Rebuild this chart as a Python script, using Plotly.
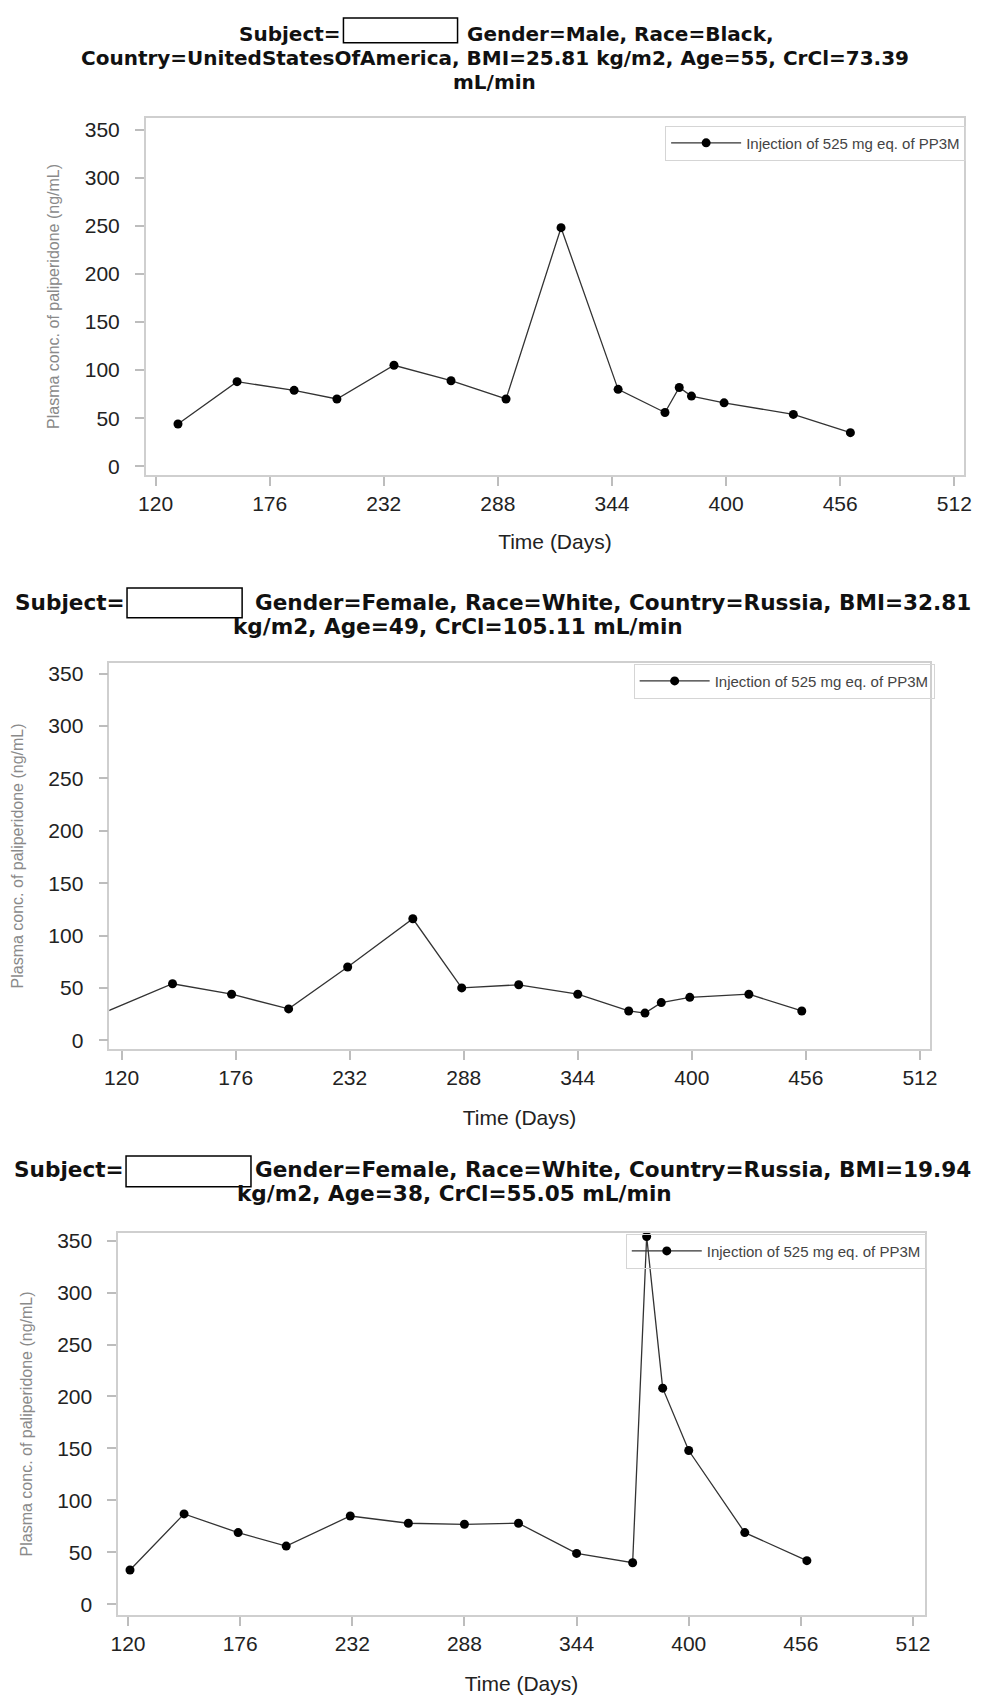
import plotly.graph_objects as go

# ---- data: study day and plasma paliperidone concentration per subject ----
days_1 = [131, 160, 188, 209, 237, 265, 292, 319, 347, 370, 377, 383, 399, 433, 461]
conc_1 = [44, 88, 79, 70, 105, 89, 70, 248, 80, 56, 82, 73, 66, 54, 35]

days_2 = [106, 145, 174, 202, 231, 263, 287, 315, 344, 369, 377, 385, 399, 428, 454]
conc_2 = [22, 54, 44, 30, 70, 116, 50, 53, 44, 28, 26, 36, 41, 44, 28]

days_3 = [121, 148, 175, 199, 231, 260, 288, 315, 344, 372, 379, 387, 400, 428, 459]
conc_3 = [33, 87, 69, 56, 85, 78, 77, 78, 49, 40, 354, 208, 148, 69, 42]

series_name = "Injection of 525 mg eq. of PP3M"
x_ticks = [120, 176, 232, 288, 344, 400, 456, 512]
y_ticks = [0, 50, 100, 150, 200, 250, 300, 350]

subject_info = [
    ("Gender=Male, Race=Black,",
     ["Country=UnitedStatesOfAmerica, BMI=25.81 kg/m2, Age=55, CrCl=73.39", "mL/min"]),
    ("Gender=Female, Race=White, Country=Russia, BMI=32.81",
     ["kg/m2, Age=49, CrCl=105.11 mL/min"]),
    ("Gender=Female, Race=White, Country=Russia, BMI=19.94",
     ["kg/m2, Age=38, CrCl=55.05 mL/min"]),
]

# ---- page geometry (pixels) ----
W, H = 982, 1695


def fx(x):
    return x / W


def fy(y):
    return 1 - y / H


# plot frames: left, right, top, bottom
frames = [(140, 972, 114, 473), (103, 937, 661, 1049), (112, 932, 1233, 1617)]
x_ranges = [[115.17, 516.83], [113.96, 516.83], [115.09, 517.9]]
y_ranges = [[-9.32, 362.4], [-8.56, 360.46], [-10.55, 357.67]]
# masked subject-id box: left, right, top, bottom
id_boxes = [(341, 457, 14, 39), (121, 238, 586, 616), (120, 247, 1156, 1187)]
title_rows = [[30, 54, 78], [601, 625], [1170, 1194]]
title_cx = [495, 457, 454]
title_size = [20, 21.6, 21.6]
gender_gap = [8, 11, 2]
legend_pos = [(974, 122), (942, 662), (934, 1234)]
x_title_standoff = [20, 22, 24]
clip_marks = [True, True, False]

TICK_FONT = dict(family="Liberation Sans, Arial", size=21, color="#222222")

fig = go.Figure()
layout = dict(
    width=W, height=H,
    margin=dict(l=0, r=0, t=0, b=0),
    paper_bgcolor="white", plot_bgcolor="white",
    showlegend=True,
)
annotations = []
shapes = []

all_days = [days_1, days_2, days_3]
all_conc = [conc_1, conc_2, conc_3]

for i in range(3):
    sfx = "" if i == 0 else str(i + 1)
    leg = "legend" + sfx
    fig.add_trace(go.Scatter(
        x=all_days[i], y=all_conc[i],
        mode="lines+markers",
        name=series_name,
        line=dict(color="#333333", width=1.3),
        marker=dict(color="black", size=9),
        xaxis="x" + sfx, yaxis="y" + sfx,
        legend=leg,
        showlegend=True,
        cliponaxis=clip_marks[i],
    ))

    l, r, t, b = frames[i]
    layout["xaxis" + sfx] = dict(
        domain=[fx(l), fx(r)], range=x_ranges[i], anchor="y" + sfx,
        tickmode="array", tickvals=x_ticks,
        showline=True, mirror=True, linecolor="#cfcfcf", linewidth=1.5,
        ticks="outside", ticklen=9, tickwidth=1.5, tickcolor="#bdbdbd",
        showgrid=False, zeroline=False,
        tickfont=TICK_FONT,
        title=dict(text="Time (Days)", font=TICK_FONT, standoff=x_title_standoff[i]),
    )
    layout["yaxis" + sfx] = dict(
        domain=[fy(b), fy(t)], range=y_ranges[i], anchor="x" + sfx,
        tickmode="array", tickvals=y_ticks,
        showline=True, mirror=True, linecolor="#cfcfcf", linewidth=1.5,
        ticks="outside", ticklen=9, tickwidth=1.5, tickcolor="#bdbdbd",
        showgrid=False, zeroline=False,
        tickfont=TICK_FONT, ticklabelstandoff=11,
        title=dict(text="Plasma conc. of paliperidone (ng/mL)",
                   font=dict(family="Liberation Sans, Arial", size=16, color="#8a8a8a"),
                   standoff=21),
    )

    lx, ly = legend_pos[i]
    layout[leg] = dict(
        x=fx(lx), y=fy(ly), xanchor="right", yanchor="top",
        xref="paper", yref="paper",
        bgcolor="rgba(0,0,0,0)", bordercolor="#d5d5d5", borderwidth=1,
        font=dict(family="Liberation Sans, Arial", size=15, color="#444444"),
        itemwidth=70,
    )

    # title: "Subject=" + masked id box + subject details
    title_font = dict(family="DejaVu Sans", size=title_size[i], color="#111111", weight="bold")
    bl, br, bt, bb = id_boxes[i]
    rows = title_rows[i]
    first, rest = subject_info[i]
    annotations.append(dict(
        text="Subject=", x=fx(bl), y=fy(rows[0]), xref="paper", yref="paper",
        xanchor="right", yanchor="middle", showarrow=False, font=title_font,
    ))
    annotations.append(dict(
        text=first, x=fx(br + gender_gap[i]), y=fy(rows[0]), xref="paper", yref="paper",
        xanchor="left", yanchor="middle", showarrow=False, font=title_font,
    ))
    shapes.append(dict(
        type="rect", xref="paper", yref="paper",
        x0=fx(bl), x1=fx(br), y0=fy(bb), y1=fy(bt),
        line=dict(color="black", width=1.5), fillcolor="white",
    ))
    for k, line_text in enumerate(rest):
        annotations.append(dict(
            text=line_text, x=fx(title_cx[i]), y=fy(rows[k + 1]),
            xref="paper", yref="paper", xanchor="center", yanchor="middle",
            showarrow=False, font=title_font,
        ))

layout["annotations"] = annotations
layout["shapes"] = shapes
fig.update_layout(**layout)

fig.write_html("out.html")
